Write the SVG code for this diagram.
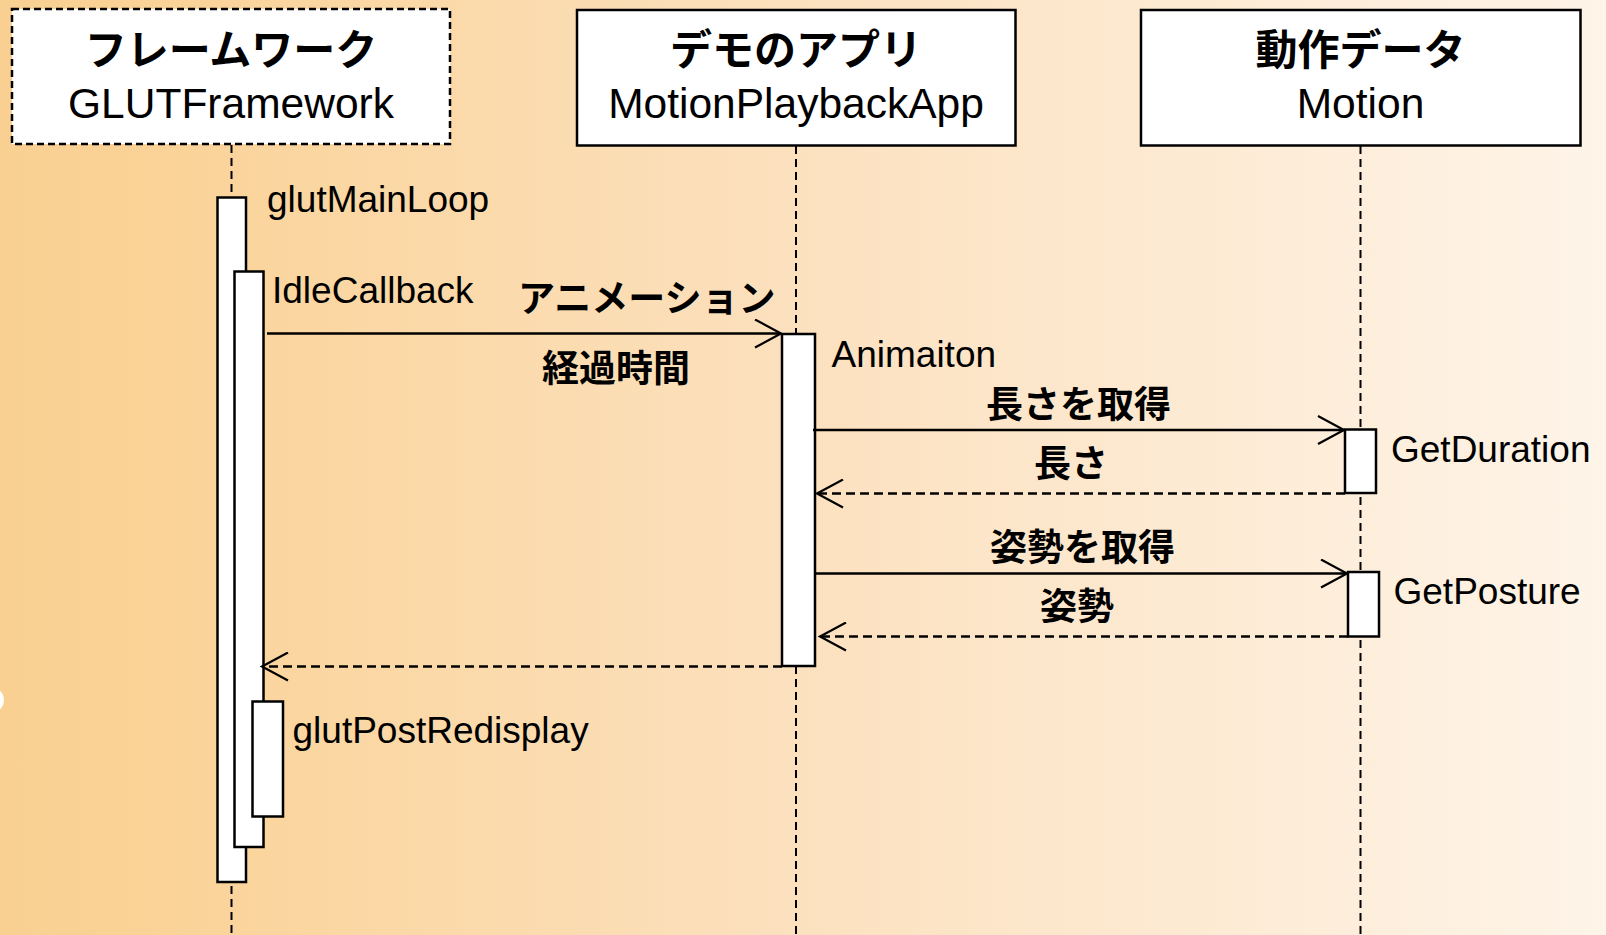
<svg xmlns="http://www.w3.org/2000/svg" width="1606" height="935" viewBox="0 0 1606 935">
  <defs>
    <linearGradient id="bg" x1="0" y1="0" x2="1" y2="0">
      <stop offset="0" stop-color="#F9D092"/>
      <stop offset="0.08" stop-color="#FAD296"/>
      <stop offset="0.5" stop-color="#FCE1BF"/>
      <stop offset="1" stop-color="#FEF4E8"/>
    </linearGradient>
    <marker id="open" viewBox="0 0 30 30" refX="27" refY="15" markerWidth="30" markerHeight="30" markerUnits="userSpaceOnUse" orient="auto">
      <path d="M1,1 L27,15 L1,29" fill="none" stroke="#000" stroke-width="2.2"/>
    </marker>
    <style>
      .box { fill: #fff; stroke: #000; stroke-width: 2.5; }
      .dbox { fill: #fff; stroke: #000; stroke-width: 2.5; stroke-dasharray: 7 4; }
      .act { fill: #fff; stroke: #000; stroke-width: 2.5; }
      .life { stroke: #000; stroke-width: 2; stroke-dasharray: 8 5; fill: none; }
      .msg { stroke: #000; stroke-width: 2.5; fill: none; marker-end: url(#open); }
      .ret { stroke: #000; stroke-width: 2.5; fill: none; stroke-dasharray: 9 5; marker-end: url(#open); }
      .jt { font-family: "Noto Sans CJK JP", "Noto Sans CJK SC", sans-serif; font-weight: bold; font-size: 42px; text-anchor: middle; fill: #000; }
      .et { font-family: "Liberation Sans", Arial, sans-serif; font-size: 42.5px; text-anchor: middle; fill: #000; }
      .lab { font-family: "Liberation Sans", Arial, sans-serif; font-size: 37px; fill: #000; }
      .jl { font-family: "Noto Sans CJK JP", "Noto Sans CJK SC", sans-serif; font-weight: bold; font-size: 37px; fill: #000; }
    </style>
  </defs>
  <rect x="0" y="0" width="1606" height="935" fill="url(#bg)"/>
  <ellipse cx="-3" cy="700" rx="7" ry="10" fill="#fff"/>

  <g id="lifelines">
    <line class="life" x1="231.5" y1="145" x2="231.5" y2="935"/>
    <line class="life" x1="796" y1="146" x2="796" y2="935"/>
    <line class="life" x1="1360.5" y1="146" x2="1360.5" y2="935"/>
  </g>

  <g id="node-framework">
    <rect class="dbox" x="12" y="9" width="438" height="135"/>
    <text class="jt" x="231" y="65">フレームワーク</text>
    <text class="et" x="231" y="118">GLUTFramework</text>
  </g>
  <g id="node-app">
    <rect class="box" x="577" y="10" width="438.5" height="135.5"/>
    <text class="jt" x="796" y="65">デモのアプリ</text>
    <text class="et" x="796" y="118">MotionPlaybackApp</text>
  </g>
  <g id="node-motion">
    <rect class="box" x="1141" y="10" width="439.5" height="135.5"/>
    <text class="jt" x="1360.5" y="65">動作データ</text>
    <text class="et" x="1360.5" y="118">Motion</text>
  </g>

  <g id="act-glutMainLoop">
    <rect class="act" x="217.5" y="197.5" width="28.5" height="684.5"/>
    <text class="lab" x="267" y="212">glutMainLoop</text>
  </g>
  <g id="act-IdleCallback">
    <rect class="act" x="234.5" y="271.5" width="29" height="575.5"/>
    <text class="lab" x="272" y="303">IdleCallback</text>
  </g>
  <g id="act-glutPostRedisplay">
    <rect class="act" x="252.5" y="701.5" width="30.5" height="115"/>
    <text class="lab" x="292.5" y="743">glutPostRedisplay</text>
  </g>
  <g id="act-Animaiton">
    <rect class="act" x="782" y="334" width="33" height="332"/>
    <text class="lab" x="831.5" y="367">Animaiton</text>
  </g>
  <g id="act-GetDuration">
    <rect class="act" x="1345" y="429.5" width="31" height="63.5"/>
    <text class="lab" x="1391" y="462">GetDuration</text>
  </g>
  <g id="act-GetPosture">
    <rect class="act" x="1348" y="572" width="31" height="64.5"/>
    <text class="lab" x="1393.5" y="604">GetPosture</text>
  </g>

  <g id="connectors">
    <line class="msg" x1="267" y1="333.5" x2="781" y2="333.5"/>
    <text class="jl" x="518" y="312">アニメーション</text>
    <text class="jl" x="542" y="382">経過時間</text>

    <line class="msg" x1="813" y1="430" x2="1344" y2="430"/>
    <text class="jl" x="986" y="418">長さを取得</text>

    <line class="ret" x1="1345" y1="493.5" x2="817" y2="493.5"/>
    <text class="jl" x="1034" y="477">長さ</text>

    <line class="msg" x1="815" y1="573.5" x2="1347" y2="573.5"/>
    <text class="jl" x="990" y="561">姿勢を取得</text>

    <line class="ret" x1="1348" y1="636.5" x2="820" y2="636.5"/>
    <text class="jl" x="1040" y="620">姿勢</text>

    <line class="ret" x1="782" y1="666.5" x2="262" y2="666.5"/>
  </g>
</svg>
